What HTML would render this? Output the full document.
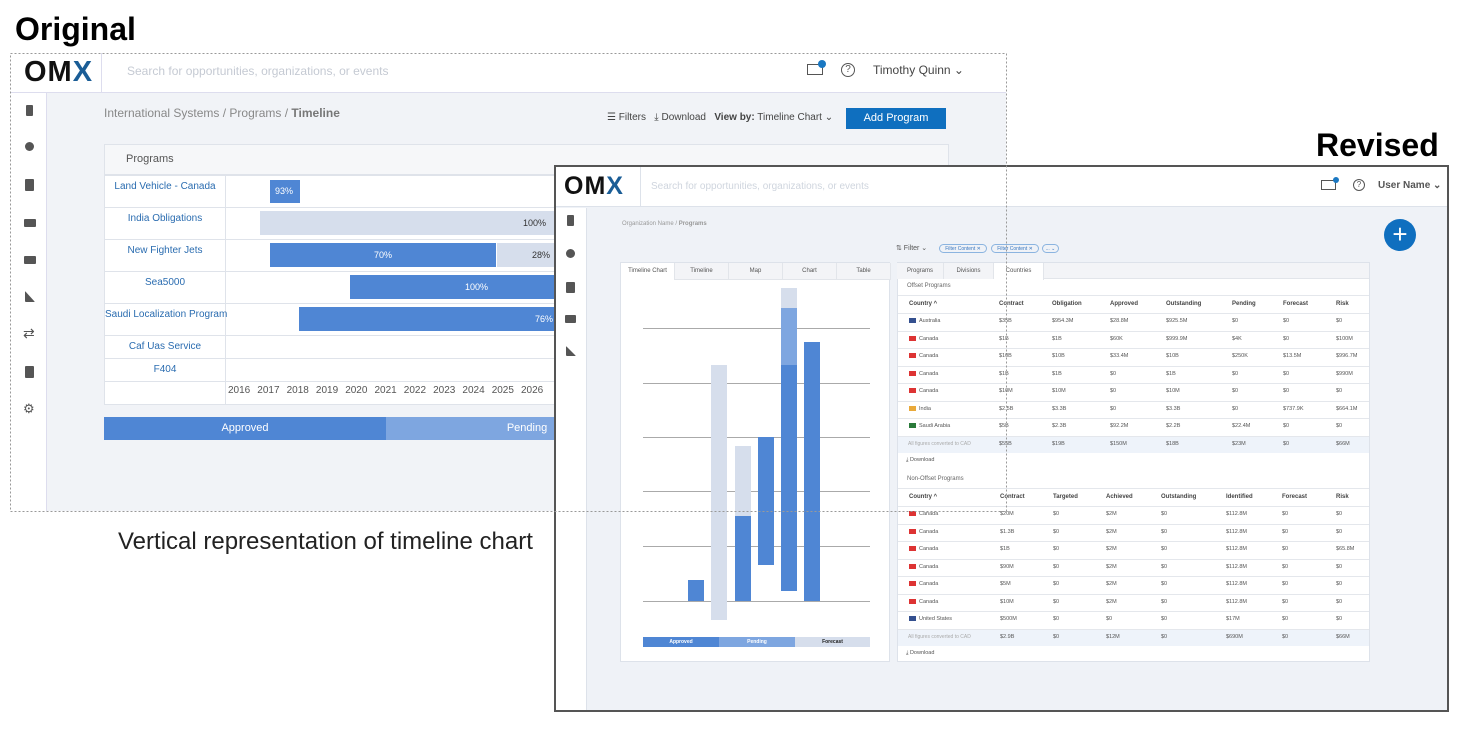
<!DOCTYPE html>
<html><head><meta charset="utf-8"><style>
*{margin:0;padding:0;box-sizing:border-box}
body{width:1467px;height:731px;position:relative;background:#fff;font-family:"Liberation Sans",sans-serif;overflow:hidden}
.a{position:absolute}
.t{position:absolute;white-space:nowrap}
.ic{position:absolute;background:#555;border-radius:1px}
</style></head><body>
<div class="t" style="left:15px;top:11px;font-size:32px;font-weight:bold;color:#000">Original</div>
<div class="t" style="left:1316px;top:127px;font-size:32px;font-weight:bold;color:#000">Revised</div>
<div class="t" style="left:118px;top:528px;font-size:24px;color:#222">Vertical representation of timeline chart</div>

<!-- ORIGINAL -->
<div class="a" style="left:10px;top:53px;width:996px;height:458px;background:#f1f3f7"></div>
<div class="a" style="left:10px;top:53px;width:996px;height:40px;background:#fff;border-bottom:1px solid #dde"></div>
<div class="a" style="left:101px;top:53px;width:1px;height:40px;background:#dde"></div>
<div class="t" style="left:24px;top:56px;font-size:29px;font-weight:bold;color:#111;letter-spacing:1px">OM<span style="color:#1a5d96">X</span></div>
<div class="t" style="left:127px;top:64px;font-size:12px;color:#c5cad3">Search for opportunities, organizations, or events</div>
<div class="a" style="left:807px;top:64px;width:16px;height:11px;border:1px solid #555"></div>
<div class="a" style="left:818px;top:60px;width:8px;height:8px;border-radius:50%;background:#1a78c2"></div>
<div class="a" style="left:841px;top:63px;width:14px;height:14px;border:1px solid #555;border-radius:50%;font-size:10px;text-align:center;line-height:12px;color:#555">?</div>
<div class="t" style="left:873px;top:63px;font-size:12px;color:#444">Timothy Quinn ⌄</div>
<div class="a" style="left:10px;top:93px;width:37px;height:418px;background:#fff;border-right:1px solid #dde"></div>
<div class="t" style="left:104px;top:106px;font-size:12px;color:#888">International Systems / Programs / <b style="color:#777">Timeline</b></div>
<div class="t" style="left:607px;top:112px;font-size:10px;color:#444">☰ Filters &nbsp;&nbsp;⤓ Download &nbsp;&nbsp;<b>View by:</b> Timeline Chart ⌄</div>
<div class="a" style="left:846px;top:108px;width:100px;height:21px;background:#0f6fbf;color:#fff;font-size:11px;text-align:center;line-height:21px">Add Program</div>
<div class="a" style="left:104px;top:144px;width:845px;height:261px;background:#fff;border:1px solid #dfe3ea"></div>
<div class="a" style="left:105px;top:145px;width:843px;height:30px;background:#f6f7f9;border-bottom:1px solid #dfe3ea"></div>
<div class="t" style="left:126px;top:153px;font-size:11px;color:#555">Programs</div>
<div class="a" style="left:225px;top:175px;width:1px;height:229px;background:#dfe3ea"></div>
<div id="orows"></div>
<div class="a" style="left:104px;top:417px;width:282px;height:23px;background:#4f86d4;color:#fff;font-size:11px;text-align:center;line-height:23px">Approved</div>
<div class="a" style="left:386px;top:417px;width:282px;height:23px;background:#7ea6e0;color:#fff;font-size:11px;text-align:center;line-height:23px">Pending</div>
<div class="a" style="left:270px;top:180px;width:30px;height:23px;background:#4f86d4;color:#fff;font-size:9px;line-height:23px;padding-left:5px">93%</div>
<div class="a" style="left:260px;top:211px;width:300px;height:24px;background:#d6deec;font-size:9px;line-height:24px;color:#333;text-align:right;padding-right:14px">100%</div>
<div class="a" style="left:270px;top:243px;width:226px;height:24px;background:#4f86d4;color:#fff;font-size:9px;line-height:24px;text-align:center">70%</div>
<div class="a" style="left:497px;top:243px;width:60px;height:24px;background:#d6deec;font-size:9px;line-height:24px;color:#333;padding-left:35px">28%</div>
<div class="a" style="left:350px;top:275px;width:210px;height:24px;background:#4f86d4;color:#fff;font-size:9px;line-height:24px;padding-left:115px">100%</div>
<div class="a" style="left:299px;top:307px;width:260px;height:24px;background:#4f86d4;color:#fff;font-size:9px;line-height:24px;text-align:right;padding-right:6px">76%</div>
<div id="years"></div>

<!-- REVISED -->
<div class="a" style="left:554px;top:165px;width:895px;height:547px;background:#eff2f7;border:2px solid #555"></div>
<div class="a" style="left:556px;top:167px;width:891px;height:40px;background:#fff;border-bottom:1px solid #dde2ea"></div>
<div class="a" style="left:640px;top:167px;width:1px;height:40px;background:#dde2ea"></div>
<div class="t" style="left:564px;top:172px;font-size:25px;font-weight:bold;color:#111;letter-spacing:1px">OM<span style="color:#1a5d96">X</span></div>
<div class="t" style="left:651px;top:181px;font-size:10px;color:#cfd5de">Search for opportunities, organizations, or events</div>
<div class="a" style="left:1321px;top:180px;width:15px;height:10px;border:1px solid #555"></div>
<div class="a" style="left:1333px;top:177px;width:6px;height:6px;border-radius:50%;background:#1a78c2"></div>
<div class="a" style="left:1353px;top:179px;width:12px;height:12px;border:1px solid #555;border-radius:50%;font-size:8px;text-align:center;line-height:10px;color:#555">?</div>
<div class="t" style="left:1378px;top:180px;font-size:10px;font-weight:bold;color:#555">User Name ⌄</div>
<div class="a" style="left:556px;top:208px;width:31px;height:502px;background:#fff;border-right:1px solid #dde2ea"></div>
<div class="t" style="left:622px;top:221px;font-size:6px;color:#999">Organization Name / <b>Programs</b></div>
<div class="a" style="left:1384px;top:219px;width:32px;height:32px;border-radius:50%;background:#0f6fbf;color:#fff;font-size:26px;text-align:center;line-height:31px">+</div>
<div class="t" style="left:896px;top:244px;font-size:7px;color:#555">⇅ Filter ⌄</div>
<div class="a" style="left:939px;top:244px;width:48px;height:9px;border:1px solid #8bb4e0;border-radius:5px;font-size:5px;color:#3a78c0;line-height:8px;text-align:center">Filter Content ✕</div>
<div class="a" style="left:991px;top:244px;width:48px;height:9px;border:1px solid #8bb4e0;border-radius:5px;font-size:5px;color:#3a78c0;line-height:8px;text-align:center">Filter Content ✕</div>
<div class="a" style="left:1042px;top:244px;width:17px;height:9px;border:1px solid #8bb4e0;border-radius:5px;font-size:5px;color:#3a78c0;line-height:8px;text-align:center">... ⌄</div>
<div class="a" style="left:620px;top:262px;width:270px;height:400px;background:#fff;border:1px solid #dde2ea"></div>
<div id="ltabs"></div>
<div id="chart"></div>
<div class="a" style="left:897px;top:262px;width:473px;height:400px;background:#fff;border:1px solid #dde2ea"></div>
<div class="a" style="left:898px;top:263px;width:471px;height:16px;background:#f3f4f7;border-bottom:1px solid #e2e5ea"></div>
<div id="rtabs"></div>
<div id="tables"></div>

<svg class="a" style="left:0;top:0" width="1467" height="731">
<rect x="10.5" y="53.5" width="996" height="458" fill="none" stroke="#999" stroke-dasharray="2,2"/>
</svg>
<script>
function h(id,s){document.getElementById(id).innerHTML=s}
var s='',rows=[175,207,239,271,303,335,358,381,404],names=['Land Vehicle - Canada','India Obligations','New Fighter Jets','Sea5000','Saudi Localization Program','Caf Uas Service','F404'];
for(var i=0;i<8;i++){s+='<div class="a" style="left:105px;top:'+rows[i]+'px;width:843px;height:1px;background:#dfe3ea"></div>';
if(i<7)s+='<div class="t" style="left:105px;width:120px;text-align:center;top:'+(rows[i]+6)+'px;font-size:10px;color:#2a6cb0">'+names[i]+'</div>';}
h('orows',s);
s='';for(var y=0;y<11;y++)s+='<div class="t" style="left:'+(228+y*29.3)+'px;top:385px;font-size:10px;color:#555">'+(2016+y)+'</div>';h('years',s);
s='';var lt=['Timeline Chart','Timeline','Map','Chart','Table'];
for(i=0;i<5;i++)s+='<div class="a" style="left:'+(621+i*54)+'px;top:263px;width:54px;height:17px;background:'+(i?'#f3f4f7':'#fff')+';border-right:1px solid #e2e5ea;border-bottom:'+(i?'1px solid #e2e5ea':'none')+';font-size:6px;color:#555;text-align:center;line-height:17px">'+lt[i]+'</div>';
h('ltabs',s);
s='';[328,383,437,491,546,601].forEach(function(y){s+='<div class="a" style="left:643px;top:'+y+'px;width:227px;height:1px;background:#aaa"></div>'});
function b(x,t,bt,c){s+='<div class="a" style="left:'+x+'px;top:'+t+'px;width:16px;height:'+(bt-t)+'px;background:'+c+'"></div>'}
var B='#4f86d4',P='#7ea6e0',F='#d6deec';
b(688,580,601,B);b(711,365,620,F);b(735,446,516,F);b(735,516,601,B);b(758,437,565,B);b(781,288,308,F);b(781,308,365,P);b(781,365,591,B);b(804,342,601,B);
s+='<div class="a" style="left:643px;top:637px;width:76px;height:10px;background:#4f86d4;color:#fff;font-size:5px;font-weight:bold;text-align:center;line-height:10px">Approved</div><div class="a" style="left:719px;top:637px;width:76px;height:10px;background:#7ea6e0;color:#fff;font-size:5px;font-weight:bold;text-align:center;line-height:10px">Pending</div><div class="a" style="left:795px;top:637px;width:75px;height:10px;background:#d6deec;color:#222;font-size:5px;font-weight:bold;text-align:center;line-height:10px">Forecast</div>';
h('chart',s);
s='';var rt=[['Programs',897,47],['Divisions',944,50],['Countries',994,50]];
rt.forEach(function(r,i){s+='<div class="a" style="left:'+r[1]+'px;top:263px;width:'+r[2]+'px;height:'+(i==2?17:16)+'px;background:'+(i==2?'#fff':'#f3f4f7')+';border-right:1px solid #e2e5ea;font-size:6px;color:#555;text-align:center;line-height:16px">'+r[0]+'</div>'});
h('rtabs',s);
s='';
function tbl(y0,title,hdr,xs,data,tot){
 s+='<div class="t" style="left:907px;top:'+(y0-4)+'px;font-size:6px;color:#666">'+title+'</div>';
 var hy=y0+9;s+='<div class="a" style="left:898px;top:'+(hy-1)+'px;width:471px;height:1px;background:#e4e7ec"></div>';
 hdr.forEach(function(t,i){s+='<div class="t" style="left:'+xs[i]+'px;top:'+(hy+5)+'px;font-size:6px;font-weight:bold;color:#444">'+t+'</div>'});
 var y=hy+17;
 data.forEach(function(r){s+='<div class="a" style="left:898px;top:'+y+'px;width:471px;height:1px;background:#e4e7ec"></div>';
  var f=r[0];var col=f=='Canada'?'#d33':f=='India'?'#e9a93a':f=='Saudi Arabia'?'#2a7a3a':'#34508f';
  s+='<div class="a" style="left:909px;top:'+(y+5)+'px;width:7px;height:5px;background:'+col+'"></div>';
  s+='<div class="t" style="left:919px;top:'+(y+5)+'px;font-size:5.5px;color:#555">'+f+'</div>';
  for(var i=1;i<r.length;i++)s+='<div class="t" style="left:'+xs[i]+'px;top:'+(y+5)+'px;font-size:5.5px;color:#555">'+r[i]+'</div>';
  y+=17.5;});
 s+='<div class="a" style="left:898px;top:'+y+'px;width:471px;height:17px;background:#eef3fa;border-top:1px solid #e4e7ec"></div>';
 s+='<div class="t" style="left:908px;top:'+(y+5)+'px;font-size:5px;color:#aaa">All figures converted to CAD</div>';
 for(var i=1;i<tot.length;i++)s+='<div class="t" style="left:'+xs[i]+'px;top:'+(y+5)+'px;font-size:5.5px;color:#555">'+tot[i]+'</div>';
 s+='<div class="t" style="left:906px;top:'+(y+21)+'px;font-size:5.5px;color:#555">⤓ Download</div>';
}
tbl(287,'Offset Programs',['Country ^','Contract','Obligation','Approved','Outstanding','Pending','Forecast','Risk'],[909,999,1052,1110,1166,1232,1283,1336],
[['Australia','$35B','$954.3M','$28.8M','$925.5M','$0','$0','$0'],['Canada','$1B','$1B','$60K','$999.9M','$4K','$0','$100M'],['Canada','$10B','$10B','$33.4M','$10B','$250K','$13.5M','$996.7M'],['Canada','$1B','$1B','$0','$1B','$0','$0','$990M'],['Canada','$10M','$10M','$0','$10M','$0','$0','$0'],['India','$2.5B','$3.3B','$0','$3.3B','$0','$737.9K','$664.1M'],['Saudi Arabia','$5B','$2.3B','$92.2M','$2.2B','$22.4M','$0','$0']],
['','$55B','$19B','$150M','$18B','$23M','$0','$66M']);
tbl(480,'Non-Offset Programs',['Country ^','Contract','Targeted','Achieved','Outstanding','Identified','Forecast','Risk'],[909,1000,1053,1106,1161,1226,1282,1336],
[['Canada','$20M','$0','$2M','$0','$112.8M','$0','$0'],['Canada','$1.3B','$0','$2M','$0','$112.8M','$0','$0'],['Canada','$1B','$0','$2M','$0','$112.8M','$0','$65.8M'],['Canada','$90M','$0','$2M','$0','$112.8M','$0','$0'],['Canada','$5M','$0','$2M','$0','$112.8M','$0','$0'],['Canada','$10M','$0','$2M','$0','$112.8M','$0','$0'],['United States','$500M','$0','$0','$0','$17M','$0','$0']],
['','$2.9B','$0','$12M','$0','$690M','$0','$66M']);
h('tables',s);
</script>
<div class="ic" style="left:26px;top:105px;width:7px;height:11px"></div>
<div class="ic" style="left:25px;top:142px;width:9px;height:9px;border-radius:50%"></div>
<div class="ic" style="left:25px;top:179px;width:9px;height:12px"></div>
<div class="ic" style="left:24px;top:219px;width:12px;height:8px"></div>
<div class="ic" style="left:24px;top:256px;width:12px;height:8px"></div>
<div class="ic" style="left:25px;top:291px;width:10px;height:11px;clip-path:polygon(0 0,0 100%,100% 100%)"></div>
<div class="t" style="left:23px;top:325px;font-size:14px;color:#555">⇄</div>
<div class="ic" style="left:25px;top:366px;width:9px;height:12px"></div>
<div class="t" style="left:23px;top:401px;font-size:13px;color:#555">⚙</div>
<div class="ic" style="left:567px;top:215px;width:7px;height:11px"></div>
<div class="ic" style="left:566px;top:249px;width:9px;height:9px;border-radius:50%"></div>
<div class="ic" style="left:566px;top:282px;width:9px;height:11px"></div>
<div class="ic" style="left:565px;top:315px;width:11px;height:8px"></div>
<div class="ic" style="left:566px;top:346px;width:10px;height:10px;clip-path:polygon(0 0,0 100%,100% 100%)"></div>
</body></html>
